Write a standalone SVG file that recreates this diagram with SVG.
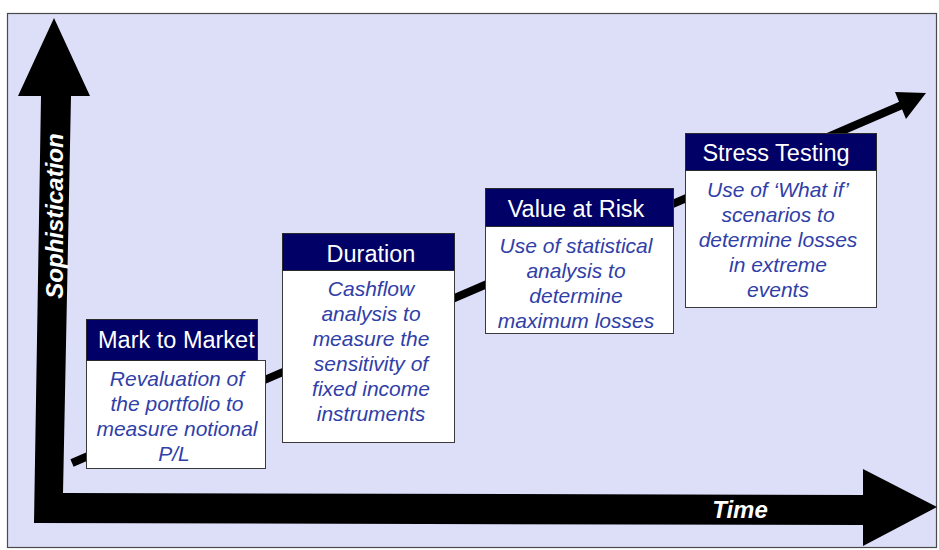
<svg xmlns="http://www.w3.org/2000/svg" width="939" height="550" viewBox="0 0 939 550">
  <style>
    .frame { fill: #dddff9; stroke: #4a4a4a; stroke-width: 1.2; }
    .axis { fill: #000000; }
    .axis-label { font-family: "Liberation Sans", Arial, sans-serif; font-weight: bold; font-style: italic; font-size: 24px; fill: #ffffff; }
    .head { fill: #000066; stroke: #2a2a2a; stroke-width: 1; }
    .body { fill: #ffffff; stroke: #3a3a3a; stroke-width: 1; }
    .title { font-family: "Liberation Sans", Arial, sans-serif; font-size: 23.5px; fill: #ffffff; text-anchor: middle; }
    .desc { font-family: "Liberation Sans", Arial, sans-serif; font-style: italic; font-size: 21px; fill: #3040a8; text-anchor: middle; }
    .trend { stroke: #000000; stroke-width: 8; fill: none; }
  </style>

  <!-- panel -->
  <rect class="frame" x="7.5" y="13.5" width="929" height="534"/>

  <!-- axes: vertical arrow (Sophistication) and horizontal arrow (Time) -->
  <polygon class="axis" points="18,96 54,18 90,96 71,96 63,493 863,495 863,469 937,507 863,546 863,525 34,523 41,96"/>
  <text class="axis-label" transform="translate(63,216) rotate(-90)" text-anchor="middle">Sophistication</text>
  <text class="axis-label" x="740" y="518" text-anchor="middle">Time</text>

  <!-- rising trend arrow behind the stages -->
  <g id="connectors">
    <line class="trend" x1="72" y1="463" x2="902" y2="105"/>
    <polygon class="axis" points="895,92 926,93 906,119"/>
  </g>

  <g id="mark-to-market">
    <rect class="body" x="86.5" y="360.5" width="179" height="108"/>
    <rect class="head" x="86.5" y="319.5" width="171" height="41"/>
    <text class="title" x="98" y="348" text-anchor="start" style="text-anchor:start">Mark to Market</text>
    <text class="desc" x="177" y="386">Revaluation of</text>
    <text class="desc" x="177" y="411">the portfolio to</text>
    <text class="desc" x="177" y="436">measure notional</text>
    <text class="desc" x="174" y="461">P/L</text>
  </g>

  <g id="duration">
    <rect class="body" x="282.5" y="270.5" width="172" height="172"/>
    <rect class="head" x="282.5" y="233.5" width="172" height="37"/>
    <text class="title" x="371" y="262">Duration</text>
    <text class="desc" x="371" y="296">Cashflow</text>
    <text class="desc" x="371" y="321">analysis to</text>
    <text class="desc" x="371" y="346">measure the</text>
    <text class="desc" x="371" y="371">sensitivity of</text>
    <text class="desc" x="371" y="396">fixed income</text>
    <text class="desc" x="371" y="421">instruments</text>
  </g>

  <g id="value-at-risk">
    <rect class="body" x="485.5" y="226.5" width="188" height="107"/>
    <rect class="head" x="485.5" y="188.5" width="188" height="38"/>
    <text class="title" x="576" y="217">Value at Risk</text>
    <text class="desc" x="576" y="253">Use of statistical</text>
    <text class="desc" x="576" y="278">analysis to</text>
    <text class="desc" x="576" y="303">determine</text>
    <text class="desc" x="576" y="328">maximum losses</text>
  </g>

  <g id="stress-testing">
    <rect class="body" x="685.5" y="170.5" width="191" height="137"/>
    <rect class="head" x="685.5" y="133.5" width="191" height="37"/>
    <text class="title" x="776" y="161">Stress Testing</text>
    <text class="desc" x="778" y="197">Use of ‘What if’</text>
    <text class="desc" x="778" y="222">scenarios to</text>
    <text class="desc" x="778" y="247">determine losses</text>
    <text class="desc" x="778" y="272">in extreme</text>
    <text class="desc" x="778" y="297">events</text>
  </g>
</svg>
